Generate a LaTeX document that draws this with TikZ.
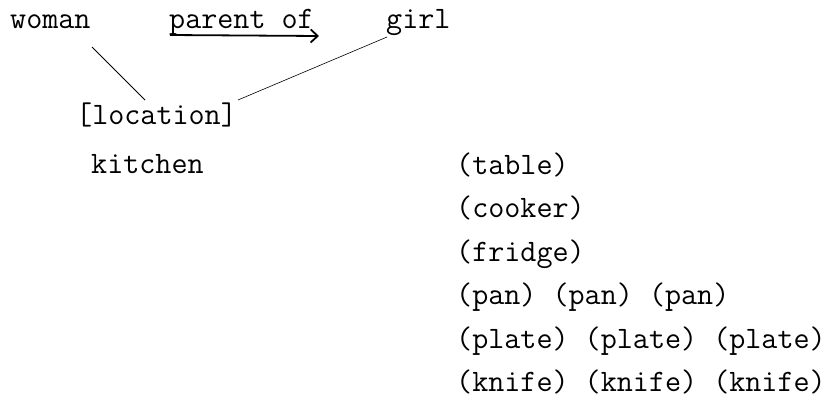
\documentclass[tikz,border=0pt]{standalone}
\usepackage{fontspec}
\usetikzlibrary{arrows.meta}
\begin{document}
\begin{tikzpicture}[x=1pt,y=-1pt,
  lbl/.style={anchor=base west,inner sep=0pt,font=\fontsize{31.2}{35}\selectfont\ttfamily},
  link/.style={line width=0.9pt},
  rel/.style={line width=1.8pt,-{Straight Barb[length=7pt,width=13pt,line width=1.8pt]}}]
\useasboundingbox (0,0) rectangle (833,418);
\node[lbl] (woman) at (10,28) {woman};
\node[lbl] (pof) at (169,28) {parent of};
\node[lbl] (girl) at (386,28) {girl};
\node[lbl] (loc) at (76,124) {[location]};
\node[lbl] (kit) at (91,173) {kitchen};
\node[lbl] (t1) at (456,174) {(table)};
\node[lbl] (t2) at (456,217.5) {(cooker)};
\node[lbl] (t3) at (456,261) {(fridge)};
\node[lbl] (t4) at (456,304.5) {(pan) (pan) (pan)};
\node[lbl] (t5) at (456,348) {(plate) (plate) (plate)};
\node[lbl] (t6) at (456,391.5) {(knife) (knife) (knife)};
\coordinate (wa) at (92,47);
\coordinate (la) at (145,100);
\coordinate (ga) at (387,37);
\coordinate (lb) at (238,100);
\coordinate (ps) at (170,35);
\coordinate (pe) at (319,36);
\draw[link] (wa) -- (la);
\draw[link,line width=0.6pt] (ga) -- (lb);
\draw[rel] (ps) -- (pe);
\end{tikzpicture}
\end{document}
